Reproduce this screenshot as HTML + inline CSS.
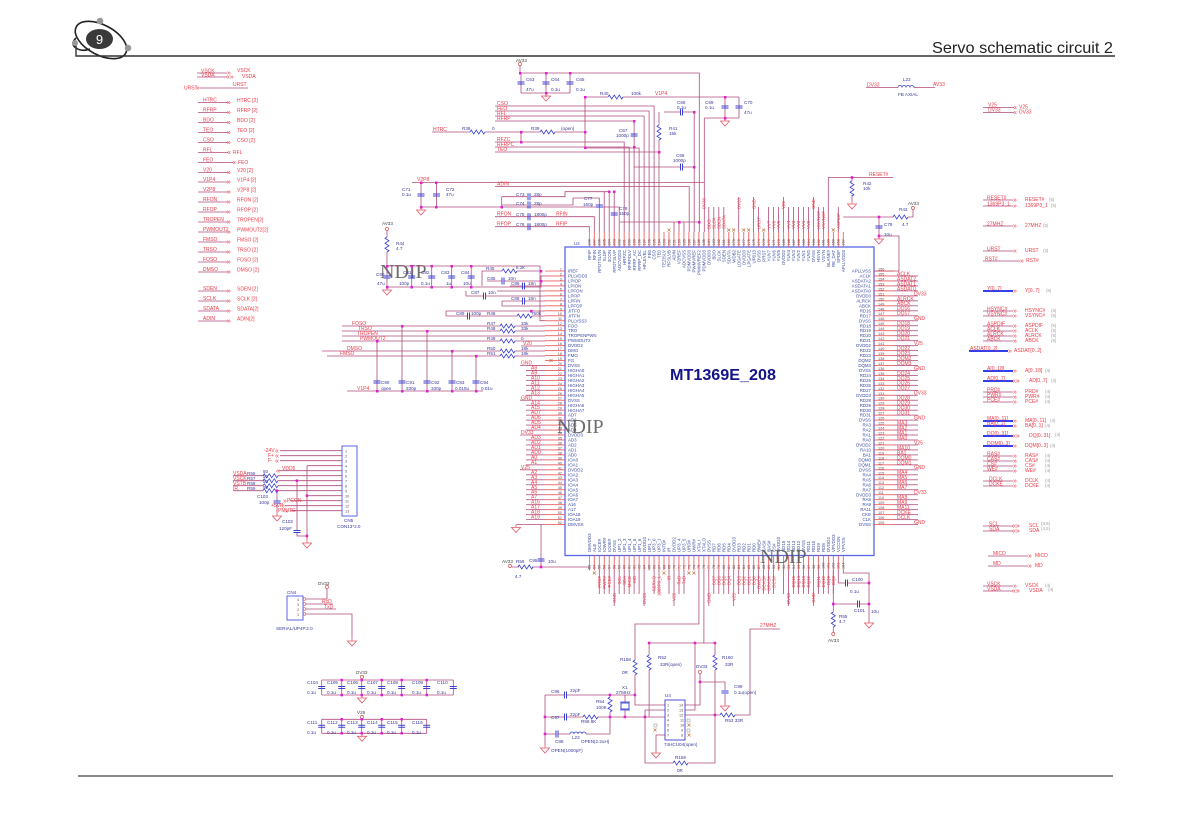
<!DOCTYPE html>
<html><head><meta charset="utf-8">
<style>
html,body{margin:0;padding:0;background:#fff;}
body{width:1182px;height:832px;overflow:hidden;position:relative;}
svg{position:absolute;left:0;top:0;}
text{font-family:"Liberation Sans",Arial,sans-serif;}
.r{fill:#ee3a48;font-size:5px;}
.rs{fill:#ee3a48;font-size:4.4px;}
.b{fill:#3c4ca0;font-size:4.4px;}
.n{fill:#6a4a5a;font-size:3.8px;}
.c{fill:#3a3a9a;font-size:4.6px;}
.g{fill:#9a9a9a;font-size:4.4px;}
.a{fill:#ee3a48;font-size:7px;}
.w{stroke:#b04c7c;stroke-width:0.8;fill:none;}
.p{stroke:#e84c4c;stroke-width:0.8;fill:none;}
.k{stroke:#3a40d0;stroke-width:0.9;fill:none;}
.bw{stroke:#1a26e6;stroke-width:1.8;fill:none;}
.nd{font-family:"Liberation Serif",serif;font-size:20px;fill:#555;opacity:0.85;}
</style></head><body>
<svg width="1182" height="832" viewBox="0 0 1182 832" xmlns="http://www.w3.org/2000/svg">
<defs>
<pattern id="ph" x="0" y="270.6" width="4" height="4.97" patternUnits="userSpaceOnUse"><rect width="4" height="0.8" fill="#e84c4c"/></pattern>
<pattern id="pm" x="0" y="270.6" width="4" height="4.97" patternUnits="userSpaceOnUse"><rect width="4" height="0.8" fill="#b04c7c"/></pattern>
<pattern id="pv" x="588.9" y="0" width="4.98" height="4" patternUnits="userSpaceOnUse"><rect width="0.8" height="4" fill="#e84c4c"/></pattern>
<path id="rh" d="M0,0l1.25,-2l2.5,4l2.5,-4l2.5,4l2.5,-4l2.5,4l1.25,-2" fill="none" stroke="#3a40d0" stroke-width="0.8"/>
<path id="rv" d="M0,0l-2,1.25l4,2.5l-4,2.5l4,2.5l-4,2.5l4,2.5l-2,1.25" fill="none" stroke="#3a40d0" stroke-width="0.8"/>
<path id="cv" d="M-3.5,-1h7M-3.5,1h7" stroke="#3a40d0" stroke-width="1"/>
<path id="ch" d="M-1,-3.5v7M1,-3.5v7" stroke="#3a40d0" stroke-width="1"/>
<path id="gd" d="M0,0v3M-4.5,3h9l-4.5,5z" fill="none" stroke="#e05a6a" stroke-width="0.8"/>
<rect id="jd" x="-1.3" y="-1.3" width="2.6" height="2.6" fill="#e020d0"/>
<path id="xx" d="M-1.5,-1.5l3,3M1.5,-1.5l-3,3" stroke="#c07840" stroke-width="0.7"/>
<path id="ind" d="M0,0a2,2 0 0 1 4,0a2,2 0 0 1 4,0a2,2 0 0 1 4,0a2,2 0 0 1 4,0" fill="none" stroke="#3a40d0" stroke-width="0.8"/>
<circle id="pw" r="1.6" fill="#fff" stroke="#e05050" stroke-width="0.7"/>
</defs>

<!-- HEADER -->
<g fill="none" stroke="#222" stroke-width="1.6">
<ellipse cx="101" cy="40" rx="28" ry="15" transform="rotate(28 101 40)"/>
<path d="M76,38 q-6,6 0,10 q6,4 14,1"/>
<path d="M76,43V56H1115" stroke="#333" stroke-width="1.4"/>
</g>
<ellipse cx="99.5" cy="39" rx="13.5" ry="10" fill="#3a3a3a"/>
<text x="99.5" y="44" text-anchor="middle" font-size="13" fill="#fff">9</text>
<circle cx="100" cy="21" r="3.3" fill="#999"/>
<circle cx="75" cy="43" r="3" fill="#999"/>
<circle cx="128" cy="48" r="3.3" fill="#999"/>
<text x="932" y="53" font-size="16" fill="#222" textLength="181" lengthAdjust="spacingAndGlyphs">Servo schematic circuit 2</text>
<path d="M78,776H1113" stroke="#444" stroke-width="1.2"/>

<!-- LEFT LABEL LIST -->
<path class="w" d="M197,73h30M197,77h30M200,88h48M198,102.5h30M198,112.5h30M198,122.5h30M198,132.5h30M198,142.5h30M198,152.5h30M198,162.5h35M198,172.5h30M198,182h30M198,192h30M198,202h30M198,212h30M198,222h30M198,232h30M198,242h30M198,252h30M198,262h30M198,272h30M198,291h30M198,301h30M198,311h30M198,321h30"/>
<text class="r"><tspan x="201" y="72.5">VSCK</tspan><tspan x="201" y="76.5">VSDA</tspan><tspan x="184" y="89.5">URST</tspan><tspan x="233" y="86">URST</tspan>
<tspan x="203" y="101.5">HTRC</tspan><tspan x="203" y="111.5">RFRP</tspan><tspan x="203" y="121.5">BDO</tspan><tspan x="203" y="131.5">TEO</tspan><tspan x="203" y="141.5">CSO</tspan><tspan x="203" y="151.5">RFL</tspan><tspan x="203" y="161.5">FEO</tspan><tspan x="203" y="171.5">V20</tspan><tspan x="203" y="181">V1P4</tspan><tspan x="203" y="191">V2P8</tspan><tspan x="203" y="201">RFON</tspan><tspan x="203" y="211">RFOP</tspan><tspan x="203" y="221">TROPEN</tspan><tspan x="203" y="231">PWMOUT2</tspan><tspan x="203" y="241">FMSO</tspan><tspan x="203" y="251">TRSO</tspan><tspan x="203" y="261">FOSO</tspan><tspan x="203" y="271">DMSO</tspan><tspan x="203" y="290">SDEN</tspan><tspan x="203" y="300">SCLK</tspan><tspan x="203" y="310">SDATA</tspan><tspan x="203" y="320">ADIN</tspan></text>
<text class="a"><tspan x="227" y="75">»</tspan><tspan x="226" y="79">«»</tspan><tspan x="196" y="90">»</tspan><tspan x="227" y="104.5">»</tspan><tspan x="227" y="114.5">»</tspan><tspan x="227" y="124.5">»</tspan><tspan x="227" y="134.5">»</tspan><tspan x="227" y="144.5">»</tspan><tspan x="227" y="154.5">«</tspan><tspan x="232" y="164.5">«</tspan><tspan x="227" y="174.5">»</tspan><tspan x="227" y="184">»</tspan><tspan x="227" y="194">»</tspan><tspan x="227" y="204">»</tspan><tspan x="227" y="214">»</tspan><tspan x="227" y="224">»</tspan><tspan x="227" y="234">»</tspan><tspan x="227" y="244">»</tspan><tspan x="227" y="254">»</tspan><tspan x="227" y="264">»</tspan><tspan x="227" y="274">»</tspan><tspan x="227" y="293">»</tspan><tspan x="227" y="303">»</tspan><tspan x="227" y="313">»</tspan><tspan x="227" y="323">»</tspan></text>
<text class="r"><tspan x="237" y="72">VSCK</tspan><tspan x="242" y="78">VSDA</tspan><tspan x="237" y="102">HTRC [2]</tspan><tspan x="237" y="112">RFRP [2]</tspan><tspan x="237" y="122">BDO  [2]</tspan><tspan x="237" y="132">TEO  [2]</tspan><tspan x="237" y="142">CSO  [2]</tspan><tspan x="233" y="154">RFL</tspan><tspan x="238" y="164">FEO</tspan><tspan x="237" y="172">V20  [2]</tspan><tspan x="237" y="181.5">V1P4 [2]</tspan><tspan x="237" y="191.5">V2P8 [2]</tspan><tspan x="237" y="201.5">RFON [2]</tspan><tspan x="237" y="211.5">RFOP [2]</tspan><tspan x="237" y="221.5">TROPEN[2]</tspan><tspan x="237" y="231.5">PWMOUT2[2]</tspan><tspan x="237" y="241.5">FMSO [2]</tspan><tspan x="237" y="251.5">TRSO [2]</tspan><tspan x="237" y="261.5">FOSO [2]</tspan><tspan x="237" y="271.5">DMSO [2]</tspan><tspan x="237" y="290.5">SDEN [2]</tspan><tspan x="237" y="300.5">SCLK [2]</tspan><tspan x="237" y="310.5">SDATA[2]</tspan><tspan x="237" y="320.5">ADIN[2]</tspan></text>

<!-- TOP-LEFT WIRING -->
<path class="w" d="M520,66V73H699.3V232M521,73V93M546,73V93M570,73V93M521,93H570M546,93V97
M585,97H608M623,97H739M725,97V118M739,97V118M704.3,118H739M704.3,118V232M412,182.5H704.3
M585,97V148M495,106H654.1V232M495,111H649.1V232M495,116H644.1V232M495,121H634.1V232
M432,132H470M485,132H540M555,132H585M521,132V142M495,142H624.2V232M495,147H629.2V232M585,148H639.1V232
M495,152H659V232M659,112V125M659,140V152M664,112H680M683,112H694.2V232M634.1,167H680M683,167H694.2
M421,182.5V207M436.5,182.5V207M421,207H619.2V232M495,186.5H689.2V232
M501.7,196.7V207M501.7,196.7H527M531,196.7H565V191.7H609.2V232M501.7,205H527M531,205H573V198H599.3V232
M495,216.7H594.3V232M495,226.7H589.3V232M604.2,191.7V232M614.2,191.7V232M620,222H699M674,222V232M679,222V232M684,222V232"/>
<use href="#pw" x="520" y="64"/>
<use href="#cv" x="521" y="83"/><use href="#cv" x="546" y="83"/><use href="#cv" x="570" y="83"/>
<use href="#gd" x="546" y="93"/>
<use href="#rh" x="608" y="97"/>
<use href="#cv" x="725" y="107"/><use href="#cv" x="739" y="107"/><use href="#gd" x="725" y="118"/>
<use href="#rh" x="470" y="132"/><use href="#rh" x="540" y="132"/>
<use href="#rv" x="659" y="125"/>
<use href="#ch" x="681.5" y="112"/><use href="#ch" x="681.5" y="167"/>
<use href="#cv" x="634.1" y="135"/>
<use href="#cv" x="421" y="195"/><use href="#cv" x="436.5" y="195"/><use href="#gd" x="421" y="207"/>
<use href="#ch" x="529" y="196.7"/><use href="#ch" x="529" y="205"/><use href="#ch" x="529" y="216.7"/><use href="#ch" x="529" y="226.7"/>
<use href="#cv" x="599.3" y="206"/><use href="#cv" x="614.2" y="214"/>
<g fill="#e020d0"><rect x="519" y="72" width="2.5" height="2.5"/><rect x="545" y="72" width="2.5" height="2.5"/><rect x="569" y="72" width="2.5" height="2.5"/><rect x="545" y="92" width="2.5" height="2.5"/><rect x="584" y="96" width="2.5" height="2.5"/><rect x="724" y="96" width="2.5" height="2.5"/><rect x="724" y="117" width="2.5" height="2.5"/><rect x="520" y="131" width="2.5" height="2.5"/><rect x="584" y="131" width="2.5" height="2.5"/><rect x="584" y="146.5" width="2.5" height="2.5"/><rect x="520" y="141" width="2.5" height="2.5"/><rect x="633" y="120" width="2.5" height="2.5"/><rect x="633" y="146" width="2.5" height="2.5"/><rect x="658" y="151" width="2.5" height="2.5"/><rect x="693" y="111" width="2.5" height="2.5"/><rect x="693" y="166" width="2.5" height="2.5"/><rect x="420" y="181.5" width="2.5" height="2.5"/><rect x="435" y="181.5" width="2.5" height="2.5"/><rect x="420" y="206" width="2.5" height="2.5"/><rect x="435" y="206" width="2.5" height="2.5"/><rect x="500.5" y="206" width="2.5" height="2.5"/><rect x="678" y="221" width="2.5" height="2.5"/><rect x="698" y="221" width="2.5" height="2.5"/><rect x="608" y="190.5" width="2.5" height="2.5"/><rect x="613" y="190.5" width="2.5" height="2.5"/></g>
<text class="c"><tspan x="516" y="62" fill="#444">AV33</tspan><tspan x="526" y="81">C63</tspan><tspan x="526" y="91">47u</tspan><tspan x="551" y="81">C64</tspan><tspan x="551" y="91">0.1u</tspan><tspan x="576" y="81">C65</tspan><tspan x="576" y="91">0.1u</tspan><tspan x="600" y="95">R40</tspan><tspan x="631" y="95">100k</tspan><tspan x="705" y="104">C69</tspan><tspan x="705" y="109">0.1u</tspan><tspan x="744" y="104">C70</tspan><tspan x="744" y="114">47u</tspan><tspan x="677" y="104">C66</tspan><tspan x="677" y="109">0.1u</tspan><tspan x="462" y="130">R38</tspan><tspan x="492" y="130">0</tspan><tspan x="531" y="130">R39</tspan><tspan x="561" y="130">(open)</tspan><tspan x="669" y="130">R41</tspan><tspan x="669" y="135">15k</tspan><tspan x="619" y="132">C67</tspan><tspan x="616" y="137">1000p</tspan><tspan x="676" y="157">C68</tspan><tspan x="673" y="162">1000p</tspan><tspan x="402" y="191">C71</tspan><tspan x="402" y="196">0.1u</tspan><tspan x="446" y="191">C72</tspan><tspan x="446" y="196">47u</tspan><tspan x="516" y="196">C73</tspan><tspan x="534" y="196">28p</tspan><tspan x="516" y="205">C74</tspan><tspan x="534" y="205">28p</tspan><tspan x="516" y="216">C75</tspan><tspan x="534" y="216">1800p</tspan><tspan x="516" y="226">C76</tspan><tspan x="534" y="226">1800p</tspan><tspan x="584" y="200">C77</tspan><tspan x="583" y="206">150p</tspan><tspan x="619" y="210">C78</tspan><tspan x="619" y="215">150p</tspan></text>
<text class="r"><tspan x="655" y="95">V1P4</tspan><tspan x="497" y="105">CSO</tspan><tspan x="497" y="110">FEO</tspan><tspan x="497" y="115">RFL</tspan><tspan x="497" y="120">RFRP</tspan><tspan x="433" y="131">HTRC</tspan><tspan x="497" y="141">RFZC</tspan><tspan x="497" y="146">RFRPC</tspan><tspan x="497" y="151">TEO</tspan><tspan x="417" y="181">V2P8</tspan><tspan x="497" y="185.5">ADIN</tspan><tspan x="497" y="215.7">RFON</tspan><tspan x="556" y="215.7">RFIN</tspan><tspan x="497" y="225.7">RFOP</tspan><tspan x="556" y="225.7">RFIP</tspan></text>

<!-- TOP RIGHT -->
<path class="w" d="M866,87.5H898M914,87.5H935M983,107.5H1014M983,112.5H1014M828.3,177.5V232M828.3,177.5H893M852,177.5V181M852,195V201M843.3,217H893M908,217H913V210M879,217V236M879,236H899V271H874"/>
<use href="#ind" x="898" y="87.5"/>
<use href="#rv" x="852" y="181"/><use href="#gd" x="852" y="201"/>
<use href="#rh" x="893" y="217"/>
<use href="#pw" x="913" y="208"/>
<use href="#cv" x="879" y="227"/><use href="#gd" x="879" y="236"/>
<use href="#jd" x="852" y="177.5"/><use href="#jd" x="879" y="217"/><use href="#jd" x="879" y="236"/>
<text class="c"><tspan x="903" y="81">L22</tspan><tspan x="898" y="96">FB AXIAL</tspan><tspan x="863" y="185">R42</tspan><tspan x="863" y="190">10k</tspan><tspan x="899" y="211">R43</tspan><tspan x="902" y="226">4.7</tspan><tspan x="884" y="226">C79</tspan><tspan x="884" y="236">10u</tspan><tspan x="908" y="205" fill="#444">AV33</tspan></text>
<text class="r"><tspan x="867" y="86.5">DV33</tspan><tspan x="933" y="86">AV33</tspan><tspan x="988" y="106.5">V25</tspan><tspan x="988" y="111.5">DV33</tspan><tspan x="1019" y="108.5">V25</tspan><tspan x="1019" y="113.5">DV33</tspan><tspan x="869" y="176">RESET#</tspan></text>
<text class="a"><tspan x="1013" y="109.5">«</tspan><tspan x="1013" y="114.5">«</tspan></text>

<!-- RIGHT LABEL GROUPS -->
<path class="w" d="M983,200h30M983,206h30M983,226h30M983,251h30M983,261h37M983,311h30M983,316h30M983,326h30M983,331h30M983,336h30M983,341h30M983,392h30M983,397h30M983,402h30M983,456h30M983,461h30M983,466h30M983,471h30M983,481h30M983,486h30M983,526h30M983,531h30M988,556h40M988,566h40M983,586h30M983,591h30"/>
<path class="bw" d="M983,291h30M969,351h39M983,371h30M983,381h30M983,421h30M983,426h30M983,436h30M983,446h30"/>
<text class="r"><tspan x="987" y="199.5">RESET#</tspan><tspan x="987" y="205.5">1369P3_1</tspan><tspan x="987" y="225.5">27MHZ</tspan><tspan x="987" y="250.5">URST</tspan><tspan x="985" y="260.5">RST#</tspan><tspan x="987" y="290">Y[0..7]</tspan><tspan x="987" y="310.5">HSYNC#</tspan><tspan x="987" y="315.5">VSYNC#</tspan><tspan x="987" y="325.5">ASPDIF</tspan><tspan x="987" y="330.5">ACLK</tspan><tspan x="987" y="335.5">ALRCK</tspan><tspan x="987" y="340.5">ABCK</tspan><tspan x="970" y="350">ASDAT[0..2]</tspan><tspan x="987" y="370">A[0..18]</tspan><tspan x="987" y="380">AD[0..7]</tspan><tspan x="987" y="391.5">PRD#</tspan><tspan x="987" y="396.5">PWR#</tspan><tspan x="987" y="401.5">PCE#</tspan><tspan x="987" y="420">MA[0..11]</tspan><tspan x="987" y="425">BA[0..1]</tspan><tspan x="987" y="435">DQ[0..31]</tspan><tspan x="987" y="445">DQM[0..3]</tspan><tspan x="987" y="455.5">RAS#</tspan><tspan x="987" y="460.5">CAS#</tspan><tspan x="987" y="465.5">CS#</tspan><tspan x="987" y="470.5">WE#</tspan><tspan x="989" y="480.5">DCLK</tspan><tspan x="989" y="485.5">DCKE</tspan><tspan x="989" y="525.5">SCL</tspan><tspan x="989" y="530.5">SDA</tspan><tspan x="993" y="555">MICD</tspan><tspan x="993" y="565">MD</tspan><tspan x="987" y="585.5">VSCK</tspan><tspan x="987" y="590.5">VSDA</tspan></text>
<text class="a"><tspan x="1013" y="202">»</tspan><tspan x="1013" y="208">»</tspan><tspan x="1013" y="228">»</tspan><tspan x="1013" y="253">«</tspan><tspan x="1020" y="263">»</tspan><tspan x="1013" y="293">»</tspan><tspan x="1013" y="313">»</tspan><tspan x="1013" y="318">»</tspan><tspan x="1013" y="328">»</tspan><tspan x="1013" y="333">»</tspan><tspan x="1013" y="338">»</tspan><tspan x="1013" y="343">»</tspan><tspan x="1008" y="353">»</tspan><tspan x="1013" y="373">»</tspan><tspan x="1012" y="383">«»</tspan><tspan x="1013" y="394">»</tspan><tspan x="1013" y="399">»</tspan><tspan x="1013" y="404">»</tspan><tspan x="1013" y="423">»</tspan><tspan x="1013" y="428">»</tspan><tspan x="1012" y="438">«»</tspan><tspan x="1013" y="448">»</tspan><tspan x="1013" y="458">»</tspan><tspan x="1013" y="463">»</tspan><tspan x="1013" y="468">»</tspan><tspan x="1013" y="473">»</tspan><tspan x="1013" y="483">»</tspan><tspan x="1013" y="488">»</tspan><tspan x="1012" y="528">«»</tspan><tspan x="1012" y="533">«»</tspan><tspan x="1028" y="558">»</tspan><tspan x="1028" y="568">»</tspan><tspan x="1013" y="588">»</tspan><tspan x="1012" y="593">«»</tspan></text>
<text class="r"><tspan x="1025" y="201">RESET#</tspan><tspan x="1025" y="207">1369P3_1</tspan><tspan x="1025" y="227">27MHZ</tspan><tspan x="1025" y="252">URST</tspan><tspan x="1026" y="262">RST#</tspan><tspan x="1025" y="292">Y[0..7]</tspan><tspan x="1025" y="312">HSYNC#</tspan><tspan x="1025" y="317">VSYNC#</tspan><tspan x="1025" y="327">ASPDIF</tspan><tspan x="1025" y="332">ACLK</tspan><tspan x="1025" y="337">ALRCK</tspan><tspan x="1025" y="342">ABCK</tspan><tspan x="1014" y="352">ASDAT[0..2]</tspan><tspan x="1025" y="372">A[0..18]</tspan><tspan x="1029" y="382">AD[0..7]</tspan><tspan x="1025" y="393">PRD#</tspan><tspan x="1025" y="398">PWR#</tspan><tspan x="1025" y="403">PCE#</tspan><tspan x="1025" y="422">MA[0..11]</tspan><tspan x="1025" y="427">BA[0..1]</tspan><tspan x="1029" y="437">DQ[0..31]</tspan><tspan x="1025" y="447">DQM[0..3]</tspan><tspan x="1025" y="457">RAS#</tspan><tspan x="1025" y="462">CAS#</tspan><tspan x="1025" y="467">CS#</tspan><tspan x="1025" y="472">WE#</tspan><tspan x="1025" y="482">DCLK</tspan><tspan x="1025" y="487">DCKE</tspan><tspan x="1029" y="527">SCL</tspan><tspan x="1029" y="532">SDA</tspan><tspan x="1035" y="557">MICD</tspan><tspan x="1035" y="567">MD</tspan><tspan x="1025" y="587">VSCK</tspan><tspan x="1029" y="592">VSDA</tspan></text>
<text class="g"><tspan x="1049" y="201">(5)</tspan><tspan x="1051" y="207">(5)</tspan><tspan x="1043" y="227">(5)</tspan><tspan x="1043" y="252">(3)</tspan><tspan x="1046" y="292">(5)</tspan><tspan x="1051" y="312">(5)</tspan><tspan x="1051" y="317">(5)</tspan><tspan x="1051" y="327">(5)</tspan><tspan x="1051" y="332">(5)</tspan><tspan x="1051" y="337">(5)</tspan><tspan x="1051" y="342">(5)</tspan><tspan x="1045" y="372">(4)</tspan><tspan x="1051" y="382">(4)</tspan><tspan x="1045" y="393">(4)</tspan><tspan x="1045" y="398">(4)</tspan><tspan x="1045" y="403">(4)</tspan><tspan x="1050" y="422">(4)</tspan><tspan x="1045" y="427">(4)</tspan><tspan x="1055" y="436">(4)</tspan><tspan x="1050" y="447">(4)</tspan><tspan x="1045" y="457">(4)</tspan><tspan x="1045" y="462">(4)</tspan><tspan x="1045" y="467">(4)</tspan><tspan x="1045" y="472">(4)</tspan><tspan x="1045" y="482">(4)</tspan><tspan x="1045" y="487">(4)</tspan><tspan x="1041" y="525">(4,5)</tspan><tspan x="1041" y="530">(4,5)</tspan><tspan x="1045" y="587">(4)</tspan><tspan x="1048" y="591">(4)</tspan></text>

<!-- CHIP U3 -->
<rect x="565" y="247" width="309" height="308.5" fill="none" stroke="#5a66e6" stroke-width="1.3"/>
<text class="b" x="574" y="245">U3</text>
<text x="670" y="380" font-size="16" font-weight="bold" fill="#14148a" textLength="106" lengthAdjust="spacingAndGlyphs">MT1369E_208</text>
<rect x="545" y="270.6" width="20" height="255" fill="url(#ph)"/>
<rect x="874" y="270.6" width="20" height="255" fill="url(#ph)"/>
<rect x="894" y="275.5" width="24" height="250" fill="url(#pm)"/>
<rect x="526" y="365" width="19" height="155" fill="url(#pm)"/>
<rect x="588.9" y="232" width="255" height="15" fill="url(#pv)"/>
<rect x="588.9" y="555.5" width="255" height="15" fill="url(#pv)"/>

<!-- left numbers -->
<text class="n" text-anchor="end"><tspan x="562" y="270.5">1</tspan><tspan x="562" dy="4.97">2</tspan><tspan x="562" dy="4.97">3</tspan><tspan x="562" dy="4.97">4</tspan><tspan x="562" dy="4.97">5</tspan><tspan x="562" dy="4.97">6</tspan><tspan x="562" dy="4.97">7</tspan><tspan x="562" dy="4.97">8</tspan><tspan x="562" dy="4.97">9</tspan><tspan x="562" dy="4.97">10</tspan><tspan x="562" dy="4.97">11</tspan><tspan x="562" dy="4.97">12</tspan><tspan x="562" dy="4.97">13</tspan><tspan x="562" dy="4.97">14</tspan><tspan x="562" dy="4.97">15</tspan><tspan x="562" dy="4.97">16</tspan><tspan x="562" dy="4.97">17</tspan><tspan x="562" dy="4.97">18</tspan><tspan x="562" dy="4.97">19</tspan><tspan x="562" dy="4.97">20</tspan><tspan x="562" dy="4.97">21</tspan><tspan x="562" dy="4.97">22</tspan><tspan x="562" dy="4.97">23</tspan><tspan x="562" dy="4.97">24</tspan><tspan x="562" dy="4.97">25</tspan><tspan x="562" dy="4.97">26</tspan><tspan x="562" dy="4.97">27</tspan><tspan x="562" dy="4.97">28</tspan><tspan x="562" dy="4.97">29</tspan><tspan x="562" dy="4.97">30</tspan><tspan x="562" dy="4.97">31</tspan><tspan x="562" dy="4.97">32</tspan><tspan x="562" dy="4.97">33</tspan><tspan x="562" dy="4.97">34</tspan><tspan x="562" dy="4.97">35</tspan><tspan x="562" dy="4.97">36</tspan><tspan x="562" dy="4.97">37</tspan><tspan x="562" dy="4.97">38</tspan><tspan x="562" dy="4.97">39</tspan><tspan x="562" dy="4.97">40</tspan><tspan x="562" dy="4.97">41</tspan><tspan x="562" dy="4.97">42</tspan><tspan x="562" dy="4.97">43</tspan><tspan x="562" dy="4.97">44</tspan><tspan x="562" dy="4.97">45</tspan><tspan x="562" dy="4.97">46</tspan><tspan x="562" dy="4.97">47</tspan><tspan x="562" dy="4.97">48</tspan><tspan x="562" dy="4.97">49</tspan><tspan x="562" dy="4.97">50</tspan><tspan x="562" dy="4.97">51</tspan><tspan x="562" dy="4.97">52</tspan></text>
<!-- left internal -->
<text class="b"><tspan x="568" y="272.6">IREF</tspan><tspan x="568" dy="4.97">PLLVDD3</tspan><tspan x="568" dy="4.97">LPIOP</tspan><tspan x="568" dy="4.97">LPION</tspan><tspan x="568" dy="4.97">LPFON</tspan><tspan x="568" dy="4.97">LPFIP</tspan><tspan x="568" dy="4.97">LPFIN</tspan><tspan x="568" dy="4.97">LPFOP</tspan><tspan x="568" dy="4.97">JITFO</tspan><tspan x="568" dy="4.97">JITFN</tspan><tspan x="568" dy="4.97">PLLVSS3</tspan><tspan x="568" dy="4.97">FOO</tspan><tspan x="568" dy="4.97">TRO</tspan><tspan x="568" dy="4.97">TROPENPWN</tspan><tspan x="568" dy="4.97">PWMOUT2</tspan><tspan x="568" dy="4.97">DVDD2</tspan><tspan x="568" dy="4.97">DMO</tspan><tspan x="568" dy="4.97">FMO</tspan><tspan x="568" dy="4.97">FG</tspan><tspan x="568" dy="4.97">DVSS</tspan><tspan x="568" dy="4.97">HIGHA0</tspan><tspan x="568" dy="4.97">HIGHA1</tspan><tspan x="568" dy="4.97">HIGHA2</tspan><tspan x="568" dy="4.97">HIGHA3</tspan><tspan x="568" dy="4.97">HIGHA4</tspan><tspan x="568" dy="4.97">HIGHA5</tspan><tspan x="568" dy="4.97">DVSS</tspan><tspan x="568" dy="4.97">HIGHA6</tspan><tspan x="568" dy="4.97">HIGHA7</tspan><tspan x="568" dy="4.97">AD7</tspan><tspan x="568" dy="4.97">AD6</tspan><tspan x="568" dy="4.97">AD5</tspan><tspan x="568" dy="4.97">AD4</tspan><tspan x="568" dy="4.97">DVDD3</tspan><tspan x="568" dy="4.97">AD3</tspan><tspan x="568" dy="4.97">AD2</tspan><tspan x="568" dy="4.97">AD1</tspan><tspan x="568" dy="4.97">AD0</tspan><tspan x="568" dy="4.97">IOA0</tspan><tspan x="568" dy="4.97">IOA1</tspan><tspan x="568" dy="4.97">DVDD2</tspan><tspan x="568" dy="4.97">IOA2</tspan><tspan x="568" dy="4.97">IOA3</tspan><tspan x="568" dy="4.97">IOA4</tspan><tspan x="568" dy="4.97">IOA5</tspan><tspan x="568" dy="4.97">IOA6</tspan><tspan x="568" dy="4.97">IOA7</tspan><tspan x="568" dy="4.97">A16</tspan><tspan x="568" dy="4.97">A17</tspan><tspan x="568" dy="4.97">IOA18</tspan><tspan x="568" dy="4.97">IOA19</tspan><tspan x="568" dy="4.97">DMVSS</tspan></text>
<!-- left external -->
<text class="r"><tspan x="521" y="364.5">GND</tspan><tspan x="531" dy="4.97">A8</tspan><tspan x="531" dy="4.97">A9</tspan><tspan x="531" dy="4.97">A10</tspan><tspan x="531" dy="4.97">A11</tspan><tspan x="531" dy="4.97">A12</tspan><tspan x="531" dy="4.97">A13</tspan><tspan x="521" dy="4.97">GND</tspan><tspan x="531" dy="4.97">A14</tspan><tspan x="531" dy="4.97">A15</tspan><tspan x="531" dy="4.97">AD7</tspan><tspan x="531" dy="4.97">AD6</tspan><tspan x="531" dy="4.97">AD5</tspan><tspan x="531" dy="4.97">AD4</tspan><tspan x="521" dy="4.97">DV33</tspan><tspan x="531" dy="4.97">AD3</tspan><tspan x="531" dy="4.97">AD2</tspan><tspan x="531" dy="4.97">AD1</tspan><tspan x="531" dy="4.97">AD0</tspan><tspan x="531" dy="4.97">A0</tspan><tspan x="531" dy="4.97">A1</tspan><tspan x="521" dy="4.97">V25</tspan><tspan x="531" dy="4.97">A2</tspan><tspan x="531" dy="4.97">A3</tspan><tspan x="531" dy="4.97">A4</tspan><tspan x="531" dy="4.97">A5</tspan><tspan x="531" dy="4.97">A6</tspan><tspan x="531" dy="4.97">A7</tspan><tspan x="531" dy="4.97">A16</tspan><tspan x="531" dy="4.97">A17</tspan><tspan x="531" dy="4.97">A18</tspan><tspan x="531" dy="4.97">A19</tspan></text>
<path class="w" d="M520,365.4H526M520,400.2H526M520,435H526M520,469.8H526M516,524.5H545M541,524.5V567"/>
<use href="#gd" x="516" y="524.5"/>
<use href="#xx" x="551" y="360.5"/>
<!-- right numbers -->
<text class="n"><tspan x="878" y="270.5">156</tspan><tspan x="878" dy="4.97">155</tspan><tspan x="878" dy="4.97">154</tspan><tspan x="878" dy="4.97">153</tspan><tspan x="878" dy="4.97">152</tspan><tspan x="878" dy="4.97">151</tspan><tspan x="878" dy="4.97">150</tspan><tspan x="878" dy="4.97">149</tspan><tspan x="878" dy="4.97">148</tspan><tspan x="878" dy="4.97">147</tspan><tspan x="878" dy="4.97">146</tspan><tspan x="878" dy="4.97">145</tspan><tspan x="878" dy="4.97">144</tspan><tspan x="878" dy="4.97">143</tspan><tspan x="878" dy="4.97">142</tspan><tspan x="878" dy="4.97">141</tspan><tspan x="878" dy="4.97">140</tspan><tspan x="878" dy="4.97">139</tspan><tspan x="878" dy="4.97">138</tspan><tspan x="878" dy="4.97">137</tspan><tspan x="878" dy="4.97">136</tspan><tspan x="878" dy="4.97">135</tspan><tspan x="878" dy="4.97">134</tspan><tspan x="878" dy="4.97">133</tspan><tspan x="878" dy="4.97">132</tspan><tspan x="878" dy="4.97">131</tspan><tspan x="878" dy="4.97">130</tspan><tspan x="878" dy="4.97">129</tspan><tspan x="878" dy="4.97">128</tspan><tspan x="878" dy="4.97">127</tspan><tspan x="878" dy="4.97">126</tspan><tspan x="878" dy="4.97">125</tspan><tspan x="878" dy="4.97">124</tspan><tspan x="878" dy="4.97">123</tspan><tspan x="878" dy="4.97">122</tspan><tspan x="878" dy="4.97">121</tspan><tspan x="878" dy="4.97">120</tspan><tspan x="878" dy="4.97">119</tspan><tspan x="878" dy="4.97">118</tspan><tspan x="878" dy="4.97">117</tspan><tspan x="878" dy="4.97">116</tspan><tspan x="878" dy="4.97">115</tspan><tspan x="878" dy="4.97">114</tspan><tspan x="878" dy="4.97">113</tspan><tspan x="878" dy="4.97">112</tspan><tspan x="878" dy="4.97">111</tspan><tspan x="878" dy="4.97">110</tspan><tspan x="878" dy="4.97">109</tspan><tspan x="878" dy="4.97">108</tspan><tspan x="878" dy="4.97">107</tspan><tspan x="878" dy="4.97">106</tspan><tspan x="878" dy="4.97">105</tspan></text>
<!-- right internal -->
<text class="b" text-anchor="end"><tspan x="871" y="272.6">APLLVSS</tspan><tspan x="871" dy="4.97">ACLK</tspan><tspan x="871" dy="4.97">ASDATA2</tspan><tspan x="871" dy="4.97">ASDATA1</tspan><tspan x="871" dy="4.97">ASDATA0</tspan><tspan x="871" dy="4.97">DVDD3</tspan><tspan x="871" dy="4.97">ALRCK</tspan><tspan x="871" dy="4.97">ABCK</tspan><tspan x="871" dy="4.97">RD16</tspan><tspan x="871" dy="4.97">RD17</tspan><tspan x="871" dy="4.97">DVSS</tspan><tspan x="871" dy="4.97">RD18</tspan><tspan x="871" dy="4.97">RD19</tspan><tspan x="871" dy="4.97">RD20</tspan><tspan x="871" dy="4.97">RD21</tspan><tspan x="871" dy="4.97">DVDD2</tspan><tspan x="871" dy="4.97">RD22</tspan><tspan x="871" dy="4.97">RD23</tspan><tspan x="871" dy="4.97">DQM2</tspan><tspan x="871" dy="4.97">DQM3</tspan><tspan x="871" dy="4.97">DVSS</tspan><tspan x="871" dy="4.97">RD24</tspan><tspan x="871" dy="4.97">RD25</tspan><tspan x="871" dy="4.97">RD26</tspan><tspan x="871" dy="4.97">RD27</tspan><tspan x="871" dy="4.97">DVDD3</tspan><tspan x="871" dy="4.97">RD28</tspan><tspan x="871" dy="4.97">RD29</tspan><tspan x="871" dy="4.97">RD30</tspan><tspan x="871" dy="4.97">RD31</tspan><tspan x="871" dy="4.97">DVSS</tspan><tspan x="871" dy="4.97">RA3</tspan><tspan x="871" dy="4.97">RA2</tspan><tspan x="871" dy="4.97">RA1</tspan><tspan x="871" dy="4.97">RA0</tspan><tspan x="871" dy="4.97">DVDD2</tspan><tspan x="871" dy="4.97">RA10</tspan><tspan x="871" dy="4.97">BA1</tspan><tspan x="871" dy="4.97">DQM0</tspan><tspan x="871" dy="4.97">DQM1</tspan><tspan x="871" dy="4.97">DVSS</tspan><tspan x="871" dy="4.97">RA4</tspan><tspan x="871" dy="4.97">RA5</tspan><tspan x="871" dy="4.97">RA6</tspan><tspan x="871" dy="4.97">RA7</tspan><tspan x="871" dy="4.97">DVDD3</tspan><tspan x="871" dy="4.97">RA8</tspan><tspan x="871" dy="4.97">RA9</tspan><tspan x="871" dy="4.97">RA11</tspan><tspan x="871" dy="4.97">CKE</tspan><tspan x="871" dy="4.97">CLK</tspan><tspan x="871" dy="4.97">DVSS</tspan></text>
<!-- right external -->
<text class="r"><tspan x="897" y="275.4">ACLK</tspan><tspan x="897" dy="4.97">ASDAT2</tspan><tspan x="897" dy="4.97">ASDAT1</tspan><tspan x="897" dy="4.97">ASDAT0</tspan><tspan x="914" dy="4.97">DV33</tspan><tspan x="897" dy="4.97">ALRCK</tspan><tspan x="897" dy="4.97">ABCK</tspan><tspan x="897" dy="4.97">DQ16</tspan><tspan x="897" dy="4.97">DQ17</tspan><tspan x="914" dy="4.97">GND</tspan><tspan x="897" dy="4.97">DQ18</tspan><tspan x="897" dy="4.97">DQ19</tspan><tspan x="897" dy="4.97">DQ20</tspan><tspan x="897" dy="4.97">DQ21</tspan><tspan x="914" dy="4.97">V25</tspan><tspan x="897" dy="4.97">DQ22</tspan><tspan x="897" dy="4.97">DQ23</tspan><tspan x="897" dy="4.97">DQM2</tspan><tspan x="897" dy="4.97">DQM3</tspan><tspan x="914" dy="4.97">GND</tspan><tspan x="897" dy="4.97">DQ24</tspan><tspan x="897" dy="4.97">DQ25</tspan><tspan x="897" dy="4.97">DQ26</tspan><tspan x="897" dy="4.97">DQ27</tspan><tspan x="914" dy="4.97">DV33</tspan><tspan x="897" dy="4.97">DQ28</tspan><tspan x="897" dy="4.97">DQ29</tspan><tspan x="897" dy="4.97">DQ30</tspan><tspan x="897" dy="4.97">DQ31</tspan><tspan x="914" dy="4.97">GND</tspan><tspan x="897" dy="4.97">MA3</tspan><tspan x="897" dy="4.97">MA2</tspan><tspan x="897" dy="4.97">MA1</tspan><tspan x="897" dy="4.97">MA0</tspan><tspan x="914" dy="4.97">V25</tspan><tspan x="897" dy="4.97">MA10</tspan><tspan x="897" dy="4.97">BA1</tspan><tspan x="897" dy="4.97">DQM0</tspan><tspan x="897" dy="4.97">DQM1</tspan><tspan x="914" dy="4.97">GND</tspan><tspan x="897" dy="4.97">MA4</tspan><tspan x="897" dy="4.97">MA5</tspan><tspan x="897" dy="4.97">MA6</tspan><tspan x="897" dy="4.97">MA7</tspan><tspan x="914" dy="4.97">DV33</tspan><tspan x="897" dy="4.97">MA8</tspan><tspan x="897" dy="4.97">MA9</tspan><tspan x="897" dy="4.97">MA11</tspan><tspan x="897" dy="4.97">DCKE</tspan><tspan x="897" dy="4.97">DCLK</tspan><tspan x="914" dy="4.97">GND</tspan></text>

<!-- top numbers -->
<g transform="translate(590.7,245.5) rotate(-90)"><text class="n"><tspan x="0" y="0">208</tspan><tspan x="0" dy="4.98">207</tspan><tspan x="0" dy="4.98">206</tspan><tspan x="0" dy="4.98">205</tspan><tspan x="0" dy="4.98">204</tspan><tspan x="0" dy="4.98">203</tspan><tspan x="0" dy="4.98">202</tspan><tspan x="0" dy="4.98">201</tspan><tspan x="0" dy="4.98">200</tspan><tspan x="0" dy="4.98">199</tspan><tspan x="0" dy="4.98">198</tspan><tspan x="0" dy="4.98">197</tspan><tspan x="0" dy="4.98">196</tspan><tspan x="0" dy="4.98">195</tspan><tspan x="0" dy="4.98">194</tspan><tspan x="0" dy="4.98">193</tspan><tspan x="0" dy="4.98">192</tspan><tspan x="0" dy="4.98">191</tspan><tspan x="0" dy="4.98">190</tspan><tspan x="0" dy="4.98">189</tspan><tspan x="0" dy="4.98">188</tspan><tspan x="0" dy="4.98">187</tspan><tspan x="0" dy="4.98">186</tspan><tspan x="0" dy="4.98">185</tspan><tspan x="0" dy="4.98">184</tspan><tspan x="0" dy="4.98">183</tspan><tspan x="0" dy="4.98">182</tspan><tspan x="0" dy="4.98">181</tspan><tspan x="0" dy="4.98">180</tspan><tspan x="0" dy="4.98">179</tspan><tspan x="0" dy="4.98">178</tspan><tspan x="0" dy="4.98">177</tspan><tspan x="0" dy="4.98">176</tspan><tspan x="0" dy="4.98">175</tspan><tspan x="0" dy="4.98">174</tspan><tspan x="0" dy="4.98">173</tspan><tspan x="0" dy="4.98">172</tspan><tspan x="0" dy="4.98">171</tspan><tspan x="0" dy="4.98">170</tspan><tspan x="0" dy="4.98">169</tspan><tspan x="0" dy="4.98">168</tspan><tspan x="0" dy="4.98">167</tspan><tspan x="0" dy="4.98">166</tspan><tspan x="0" dy="4.98">165</tspan><tspan x="0" dy="4.98">164</tspan><tspan x="0" dy="4.98">163</tspan><tspan x="0" dy="4.98">162</tspan><tspan x="0" dy="4.98">161</tspan><tspan x="0" dy="4.98">160</tspan><tspan x="0" dy="4.98">159</tspan><tspan x="0" dy="4.98">158</tspan><tspan x="0" dy="4.98">157</tspan></text></g>
<!-- top internal -->
<g transform="translate(591,250) rotate(-90)"><text class="b" text-anchor="end"><tspan x="0" y="0">RFIP</tspan><tspan x="0" dy="4.98">RFIN</tspan><tspan x="0" dy="4.98">RFDTSLVN</tspan><tspan x="0" dy="4.98">SLDP</tspan><tspan x="0" dy="4.98">3CON</tspan><tspan x="0" dy="4.98">RFDTSLVP</tspan><tspan x="0" dy="4.98">ADCVDD3</tspan><tspan x="0" dy="4.98">HRFZC</tspan><tspan x="0" dy="4.98">RFRPDLV</tspan><tspan x="0" dy="4.98">RFRP_AC</tspan><tspan x="0" dy="4.98">RFRP_DC</tspan><tspan x="0" dy="4.98">HFLEVEL</tspan><tspan x="0" dy="4.98">FE0</tspan><tspan x="0" dy="4.98">CSO</tspan><tspan x="0" dy="4.98">TE0</tspan><tspan x="0" dy="4.98">TEZISLV</tspan><tspan x="0" dy="4.98">RFSLVB</tspan><tspan x="0" dy="4.98">ADIN</tspan><tspan x="0" dy="4.98">V2REF</tspan><tspan x="0" dy="4.98">ADCVSS</tspan><tspan x="0" dy="4.98">PDMVDD3</tspan><tspan x="0" dy="4.98">PWMVREF</tspan><tspan x="0" dy="4.98">PWMVREF2</tspan><tspan x="0" dy="4.98">PDMVDD3</tspan><tspan x="0" dy="4.98">DVDD3</tspan><tspan x="0" dy="4.98">BDO</tspan><tspan x="0" dy="4.98">SLCK</tspan><tspan x="0" dy="4.98">SDEN</tspan><tspan x="0" dy="4.98">SDATA</tspan><tspan x="0" dy="4.98">WDB2</tspan><tspan x="0" dy="4.98">LDGATE</tspan><tspan x="0" dy="4.98">DVDD3</tspan><tspan x="0" dy="4.98">LPGATE</tspan><tspan x="0" dy="4.98">UP013</tspan><tspan x="0" dy="4.98">DVSS</tspan><tspan x="0" dy="4.98">PRST</tspan><tspan x="0" dy="4.98">YUV7</tspan><tspan x="0" dy="4.98">YUV6</tspan><tspan x="0" dy="4.98">YUV5</tspan><tspan x="0" dy="4.98">DVDD2</tspan><tspan x="0" dy="4.98">YUV4</tspan><tspan x="0" dy="4.98">YUV3</tspan><tspan x="0" dy="4.98">YUV2</tspan><tspan x="0" dy="4.98">YUV1</tspan><tspan x="0" dy="4.98">YUV0</tspan><tspan x="0" dy="4.98">DVSS</tspan><tspan x="0" dy="4.98">HSYN</tspan><tspan x="0" dy="4.98">VSYN</tspan><tspan x="0" dy="4.98">BLANK#</tspan><tspan x="0" dy="4.98">RE_DAT</tspan><tspan x="0" dy="4.98">SPDIF</tspan><tspan x="0" dy="4.98">APLLVDD3</tspan></text></g>
<!-- top external labels -->
<path class="w" d="M708.8,207V232M713.8,207V232M718.8,207V232M723.8,207V232M758.6,207V232M768.6,207V232M773.6,207V232M778.5,207V232M788.5,207V232M793.5,207V232M798.5,207V232M803.4,207V232M808.4,207V232M818.4,207V232M823.4,207V232M838.3,207V232"/>
<path class="w" d="M738.7,197V232M753.6,197V232M783.5,197V232M813.4,197V232" stroke="#d8a0b8"/>
<g transform="translate(591,229) rotate(-90)"><text class="rs"><tspan x="0" y="119.52">BDO</tspan><tspan x="0" y="124.5">SLCK</tspan><tspan x="0" y="129.48">SDEN</tspan><tspan x="0" y="134.46">SDATA</tspan><tspan x="0" y="169.32">URST</tspan><tspan x="0" y="179.28">YV7</tspan><tspan x="0" y="184.26">YV6</tspan><tspan x="0" y="189.24">YV5</tspan><tspan x="0" y="199.2">YV4</tspan><tspan x="0" y="204.18">YV3</tspan><tspan x="0" y="209.16">YV2</tspan><tspan x="0" y="214.14">YV1</tspan><tspan x="0" y="219.12">YV0</tspan><tspan x="0" y="229.08">HSYNC#</tspan><tspan x="0" y="234.06">VSYNC#</tspan><tspan x="0" y="249">ASPDIF</tspan></text></g>
<g transform="translate(591,209) rotate(-90)"><text class="rs"><tspan x="0" y="114.54">DV33</tspan><tspan x="0" y="149.4">DV33</tspan><tspan x="0" y="164.34">GND</tspan><tspan x="0" y="194.22">V25</tspan><tspan x="0" y="224.1">GND</tspan></text></g>
<use href="#xx" x="669" y="230"/><use href="#xx" x="728.7" y="230"/><use href="#xx" x="733.7" y="230"/><use href="#xx" x="743.7" y="230"/><use href="#xx" x="748.7" y="230"/><use href="#xx" x="763.6" y="230"/><use href="#xx" x="833.3" y="230"/>

<!-- bottom numbers -->
<g transform="translate(590.7,569) rotate(-90)"><text class="n"><tspan x="0" y="0">53</tspan><tspan x="0" dy="4.98">54</tspan><tspan x="0" dy="4.98">55</tspan><tspan x="0" dy="4.98">56</tspan><tspan x="0" dy="4.98">57</tspan><tspan x="0" dy="4.98">58</tspan><tspan x="0" dy="4.98">59</tspan><tspan x="0" dy="4.98">60</tspan><tspan x="0" dy="4.98">61</tspan><tspan x="0" dy="4.98">62</tspan><tspan x="0" dy="4.98">63</tspan><tspan x="0" dy="4.98">64</tspan><tspan x="0" dy="4.98">65</tspan><tspan x="0" dy="4.98">66</tspan><tspan x="0" dy="4.98">67</tspan><tspan x="0" dy="4.98">68</tspan><tspan x="0" dy="4.98">69</tspan><tspan x="0" dy="4.98">70</tspan><tspan x="0" dy="4.98">71</tspan><tspan x="0" dy="4.98">72</tspan><tspan x="0" dy="4.98">73</tspan><tspan x="0" dy="4.98">74</tspan><tspan x="0" dy="4.98">75</tspan><tspan x="0" dy="4.98">76</tspan><tspan x="0" dy="4.98">77</tspan><tspan x="0" dy="4.98">78</tspan><tspan x="0" dy="4.98">79</tspan><tspan x="0" dy="4.98">80</tspan><tspan x="0" dy="4.98">81</tspan><tspan x="0" dy="4.98">82</tspan><tspan x="0" dy="4.98">83</tspan><tspan x="0" dy="4.98">84</tspan><tspan x="0" dy="4.98">85</tspan><tspan x="0" dy="4.98">86</tspan><tspan x="0" dy="4.98">87</tspan><tspan x="0" dy="4.98">88</tspan><tspan x="0" dy="4.98">89</tspan><tspan x="0" dy="4.98">90</tspan><tspan x="0" dy="4.98">91</tspan><tspan x="0" dy="4.98">92</tspan><tspan x="0" dy="4.98">93</tspan><tspan x="0" dy="4.98">94</tspan><tspan x="0" dy="4.98">95</tspan><tspan x="0" dy="4.98">96</tspan><tspan x="0" dy="4.98">97</tspan><tspan x="0" dy="4.98">98</tspan><tspan x="0" dy="4.98">99</tspan><tspan x="0" dy="4.98">100</tspan><tspan x="0" dy="4.98">101</tspan><tspan x="0" dy="4.98">102</tspan><tspan x="0" dy="4.98">103</tspan><tspan x="0" dy="4.98">104</tspan></text></g>
<!-- bottom internal -->
<g transform="translate(591,552) rotate(-90)"><text class="b"><tspan x="0" y="0">DMVDD3</tspan><tspan x="0" dy="4.98">ALE</tspan><tspan x="0" dy="4.98">IOCE#</tspan><tspan x="0" dy="4.98">IOWR#</tspan><tspan x="0" dy="4.98">IOOE#</tspan><tspan x="0" dy="4.98">DVSS</tspan><tspan x="0" dy="4.98">UP1_2</tspan><tspan x="0" dy="4.98">UP1_3</tspan><tspan x="0" dy="4.98">UP1_4</tspan><tspan x="0" dy="4.98">UP1_5</tspan><tspan x="0" dy="4.98">UP1_6</tspan><tspan x="0" dy="4.98">DVDD3</tspan><tspan x="0" dy="4.98">UP1_7</tspan><tspan x="0" dy="4.98">UP3_0</tspan><tspan x="0" dy="4.98">UP3_1</tspan><tspan x="0" dy="4.98">INT0#</tspan><tspan x="0" dy="4.98">IR</tspan><tspan x="0" dy="4.98">DVDD2</tspan><tspan x="0" dy="4.98">UP3_4</tspan><tspan x="0" dy="4.98">UP3_5</tspan><tspan x="0" dy="4.98">URD#</tspan><tspan x="0" dy="4.98">UWR#</tspan><tspan x="0" dy="4.98">XTALI</tspan><tspan x="0" dy="4.98">XTALO</tspan><tspan x="0" dy="4.98">DVSS</tspan><tspan x="0" dy="4.98">RD7</tspan><tspan x="0" dy="4.98">RD6</tspan><tspan x="0" dy="4.98">RD5</tspan><tspan x="0" dy="4.98">RD4</tspan><tspan x="0" dy="4.98">DVDD3</tspan><tspan x="0" dy="4.98">RD3</tspan><tspan x="0" dy="4.98">RD2</tspan><tspan x="0" dy="4.98">RD1</tspan><tspan x="0" dy="4.98">RD0</tspan><tspan x="0" dy="4.98">RWE#</tspan><tspan x="0" dy="4.98">CAS#</tspan><tspan x="0" dy="4.98">RAS#</tspan><tspan x="0" dy="4.98">CS#</tspan><tspan x="0" dy="4.98">DVDD3</tspan><tspan x="0" dy="4.98">RD15</tspan><tspan x="0" dy="4.98">RD14</tspan><tspan x="0" dy="4.98">RD13</tspan><tspan x="0" dy="4.98">RD12</tspan><tspan x="0" dy="4.98">DVSS</tspan><tspan x="0" dy="4.98">RD11</tspan><tspan x="0" dy="4.98">RD10</tspan><tspan x="0" dy="4.98">RD9</tspan><tspan x="0" dy="4.98">RD8</tspan><tspan x="0" dy="4.98">DVDD2</tspan><tspan x="0" dy="4.98">VPVDD3</tspan><tspan x="0" dy="4.98">VCCSN</tspan><tspan x="0" dy="4.98">VPVSS</tspan></text></g>
<!-- bottom external -->
<path class="w" d="M599.3,570V594M604.2,570V594M609.2,570V594M619.2,570V594M624.2,570V594M629.2,570V594M634.1,570V594M639.1,570V594M654.1,570V594M659,570V594M669,570V594M679,570V594M684,570V594M713.8,570V594M718.8,570V594M723.8,570V594M728.7,570V594M738.7,570V594M743.7,570V594M748.7,570V594M753.6,570V594M758.6,570V594M763.6,570V594M768.6,570V594M773.6,570V594M783.5,570V594M793.5,570V594M798.5,570V594M803.4,570V594M808.4,570V594M818.4,570V594M823.4,570V594M828.3,570V594M833.3,570V594"/>
<path class="w" d="M614.2,570V606M644.1,570V606M674,570V606M708.8,570V606M733.7,570V606M788.5,570V606M813.4,570V606" stroke="#d8a0b8"/>
<g transform="translate(591,576) rotate(-90)"><text class="rs" text-anchor="end"><tspan x="0" y="9.96">PRD#</tspan><tspan x="0" y="14.94">PWR#</tspan><tspan x="0" y="19.92">PCE#</tspan><tspan x="0" y="29.88">SCL</tspan><tspan x="0" y="34.86">SDA</tspan><tspan x="0" y="39.84">MICD</tspan><tspan x="0" y="44.82">MD</tspan><tspan x="0" y="64.74">SERVO</tspan><tspan x="0" y="69.72">1369P3_1</tspan><tspan x="0" y="79.68">IR</tspan><tspan x="0" y="89.64">RxD</tspan><tspan x="0" y="94.62">TxD</tspan><tspan x="0" y="124.5">DQ7</tspan><tspan x="0" y="129.48">DQ6</tspan><tspan x="0" y="134.46">DQ5</tspan><tspan x="0" y="139.44">DQ4</tspan><tspan x="0" y="149.4">DQ3</tspan><tspan x="0" y="154.38">DQ2</tspan><tspan x="0" y="159.36">DQ1</tspan><tspan x="0" y="164.34">DQ0</tspan><tspan x="0" y="169.32">DWE#</tspan><tspan x="0" y="174.3">DCAS#</tspan><tspan x="0" y="179.28">DRAS#</tspan><tspan x="0" y="184.26">DCS#</tspan><tspan x="0" y="204.18">DQ15</tspan><tspan x="0" y="209.16">DQ14</tspan><tspan x="0" y="214.14">DQ13</tspan><tspan x="0" y="219.12">DQ12</tspan><tspan x="0" y="229.08">DQ11</tspan><tspan x="0" y="234.06">DQ10</tspan><tspan x="0" y="239.04">DQ9</tspan><tspan x="0" y="244.02">DQ8</tspan></text></g>
<g transform="translate(591,593) rotate(-90)"><text class="rs" text-anchor="end"><tspan x="0" y="24.9">GND</tspan><tspan x="0" y="54.78">DV33</tspan><tspan x="0" y="84.66">V25</tspan><tspan x="0" y="119.52">GND</tspan><tspan x="0" y="144.42">V25</tspan><tspan x="0" y="199.2">DV33</tspan><tspan x="0" y="224.1">GND</tspan></text></g>
<use href="#xx" x="594.3" y="573"/><use href="#xx" x="664" y="573"/><use href="#xx" x="688.9" y="573"/><use href="#xx" x="693.9" y="573"/>

<!-- NDIP watermarks -->
<text class="nd" x="380" y="278">NDIP</text>
<text class="nd" x="557" y="433">NDIP</text>
<text class="nd" x="760" y="563">NDIP</text>

<!-- LEFT CHIP WIRING -->
<path class="w" d="M387,231V237M387,252V266H540V320.7H545M387,266V287M411.7,266V287M431.7,266V287M451.7,266V287M471.2,266V287M387,287H541V276H545M541,281H545
M541,271H517M502,271H482M482,271V286M487,281H502M504,281H541M510,286H522M525,286H545M497,291H545M466,291V296M466,296H483M486,296H545M502,301H522M525,301H545M502,301V306H545M446,311H545M446,311V316M446,316H467M470,316H517M532,316H545
M342,326H500M515,326H545M342,331H500M515,331H545M342,336H545M342,341H500M515,341H545M521,346H545M322,351H500M515,351H545M327,356H500M515,356H545
M377,341V391M402,326V391M427,331V391M452,351V391M476,356V391M347,391H483"/>
<use href="#pw" x="387" y="229"/>
<use href="#rv" x="387" y="237"/>
<use href="#cv" x="387" y="277"/><use href="#cv" x="411.7" y="277"/><use href="#cv" x="431.7" y="277"/><use href="#cv" x="451.7" y="277"/><use href="#cv" x="471.2" y="277"/>
<use href="#gd" x="387" y="287"/>
<use href="#rh" x="502" y="271"/><use href="#ch" x="503" y="281"/><use href="#ch" x="523.5" y="286"/><use href="#ch" x="484.5" y="296"/><use href="#ch" x="523.5" y="301"/><use href="#ch" x="468.5" y="316"/><use href="#rh" x="517" y="316"/>
<use href="#rh" x="500" y="326"/><use href="#rh" x="500" y="331"/><use href="#rh" x="500" y="341"/><use href="#rh" x="500" y="351"/><use href="#rh" x="500" y="356"/>
<use href="#cv" x="377" y="382"/><use href="#cv" x="402" y="382"/><use href="#cv" x="427" y="382"/><use href="#cv" x="452" y="382"/><use href="#cv" x="476" y="382"/>
<g fill="#e020d0"><rect x="386" y="265" width="2.5" height="2.5"/><rect x="410.5" y="265" width="2.5" height="2.5"/><rect x="430.5" y="265" width="2.5" height="2.5"/><rect x="450.5" y="265" width="2.5" height="2.5"/><rect x="470" y="265" width="2.5" height="2.5"/><rect x="386" y="286" width="2.5" height="2.5"/><rect x="410.5" y="286" width="2.5" height="2.5"/><rect x="430.5" y="286" width="2.5" height="2.5"/><rect x="450.5" y="286" width="2.5" height="2.5"/><rect x="470" y="286" width="2.5" height="2.5"/><rect x="539.8" y="270" width="2.5" height="2.5"/><rect x="539.8" y="280" width="2.5" height="2.5"/><rect x="376" y="340" width="2.5" height="2.5"/><rect x="401" y="325" width="2.5" height="2.5"/><rect x="426" y="330" width="2.5" height="2.5"/><rect x="451" y="350" width="2.5" height="2.5"/><rect x="475" y="355" width="2.5" height="2.5"/><rect x="376" y="390" width="2.5" height="2.5"/><rect x="401" y="390" width="2.5" height="2.5"/><rect x="426" y="390" width="2.5" height="2.5"/><rect x="451" y="390" width="2.5" height="2.5"/><rect x="475" y="390" width="2.5" height="2.5"/><rect x="530" y="310" width="2.5" height="2.5"/></g>
<text class="c"><tspan x="382" y="225" fill="#444">AV33</tspan><tspan x="396" y="245">R44</tspan><tspan x="396" y="250">4.7</tspan><tspan x="376" y="276">C80</tspan><tspan x="377" y="285">47u</tspan><tspan x="403" y="274">C81</tspan><tspan x="399" y="285">100p</tspan><tspan x="421" y="274">C82</tspan><tspan x="421" y="285">0.1u</tspan><tspan x="441" y="274">C83</tspan><tspan x="446" y="285">1u</tspan><tspan x="461" y="274">C84</tspan><tspan x="463" y="285">10u</tspan><tspan x="486" y="270">R45</tspan><tspan x="516" y="269">8.2k</tspan><tspan x="487" y="280">C85</tspan><tspan x="508" y="280">10n</tspan><tspan x="511" y="285">C86</tspan><tspan x="528" y="285">18n</tspan><tspan x="471" y="294">C87</tspan><tspan x="488" y="294">10n</tspan><tspan x="511" y="300">C88</tspan><tspan x="528" y="300">18n</tspan><tspan x="456" y="315">C89</tspan><tspan x="471" y="315">100p</tspan><tspan x="487" y="315">R46</tspan><tspan x="531" y="315">750k</tspan><tspan x="487" y="325">R47</tspan><tspan x="521" y="325">33k</tspan><tspan x="487" y="330">R48</tspan><tspan x="521" y="330">33k</tspan><tspan x="487" y="340">R49</tspan><tspan x="521" y="340">0</tspan><tspan x="487" y="350">R50</tspan><tspan x="521" y="350">18k</tspan><tspan x="487" y="355">R51</tspan><tspan x="521" y="355">18k</tspan><tspan x="381" y="384">C90</tspan><tspan x="381" y="390">open</tspan><tspan x="406" y="384">C91</tspan><tspan x="406" y="390">330p</tspan><tspan x="431" y="384">C92</tspan><tspan x="431" y="390">330p</tspan><tspan x="456" y="384">C93</tspan><tspan x="455" y="390">0.015u</tspan><tspan x="480" y="384">C94</tspan><tspan x="481" y="390">0.01u</tspan></text>
<text class="r"><tspan x="352" y="325">FOSO</tspan><tspan x="358" y="330">TRSO</tspan><tspan x="357" y="335">TROPEN</tspan><tspan x="360" y="340">PWMOUT2</tspan><tspan x="523" y="345">V20</tspan><tspan x="347" y="350">DMSO</tspan><tspan x="340" y="355">FMSO</tspan><tspan x="357" y="390">V1P4</tspan></text>

<!-- LOWER LEFT NEAR CHIP -->
<path class="w" d="M512,567H519M532,567H589.3V570"/>
<use href="#pw" x="510" y="566"/><use href="#rh" x="518" y="567"/><use href="#cv" x="541" y="560"/><use href="#jd" x="541" y="567"/>
<text class="c"><tspan x="502" y="563" fill="#444">AV33</tspan><tspan x="516" y="563">R56</tspan><tspan x="515" y="578">4.7</tspan><tspan x="529" y="562">C95</tspan><tspan x="548" y="563">10u</tspan></text>

<!-- BOTTOM RIGHT -->
<path class="w" d="M843.3,570V573H869V622M838.3,570V583H845M848,583H869M833.3,570V612M833.3,627V632M833.3,604H857M860,604H869"/>
<use href="#ch" x="846.5" y="583"/><use href="#ch" x="858.5" y="604"/><use href="#rv" x="833.3" y="612"/><use href="#pw" x="833.3" y="634"/><use href="#gd" x="869" y="620"/>
<use href="#jd" x="869" y="583"/><use href="#jd" x="869" y="604"/><use href="#jd" x="833.3" y="604"/>
<text class="c"><tspan x="852" y="581">C100</tspan><tspan x="850" y="593">0.1u</tspan><tspan x="854" y="612">C101</tspan><tspan x="871" y="613">10u</tspan><tspan x="839" y="618">R55</tspan><tspan x="839" y="623">4.7</tspan><tspan x="828" y="642" fill="#444">AV33</tspan></text>

<!-- OSCILLATOR -->
<path class="w" d="M698.9,570V624H635V660M635,675V705H665M703.9,570V643H649.1M649.1,643H715M649.1,643V655M649.1,670V717M715,643V655M715,670V763H688M673,763H645V710H665M695,643V710H685M685,705H700V682M700,674V682H725V690M725,694V703M685,715H720M735,715H750V629H780M665,735H656V752
M545,695H564M567,695H635M625,695V702M625,710V717M610,695V697M610,712V734M545,717H564M567,717H583M598,717H665M545,734H556M558,734H570M586,734H610M545,695V745"/>
<rect x="665" y="700" width="20" height="40" fill="none" stroke="#3a40d0" stroke-width="0.9"/>
<use href="#rv" x="635" y="660"/><use href="#rv" x="649.1" y="655"/><use href="#rv" x="715" y="655"/>
<use href="#pw" x="700" y="672"/><use href="#cv" x="725" y="692"/><use href="#gd" x="725" y="703"/>
<use href="#rh" x="720" y="715"/><use href="#rh" x="673" y="763"/>
<use href="#ch" x="565.5" y="695"/><use href="#ch" x="565.5" y="717"/><use href="#ch" x="557" y="734"/>
<use href="#rv" x="610" y="697"/><use href="#rh" x="583" y="717"/><use href="#ind" x="570" y="734"/>
<rect x="621" y="703" width="8" height="6" fill="none" stroke="#3a40d0" stroke-width="0.9"/>
<path d="M620,702h10M620,710h10" stroke="#3a40d0" stroke-width="0.8"/>
<use href="#gd" x="545" y="745"/><use href="#gd" x="656" y="750"/>
<g fill="#e020d0"><rect x="608.7" y="693.7" width="2.5" height="2.5"/><rect x="633.7" y="693.7" width="2.5" height="2.5"/><rect x="608.7" y="715.7" width="2.5" height="2.5"/><rect x="623.7" y="715.7" width="2.5" height="2.5"/><rect x="643.7" y="715.7" width="2.5" height="2.5"/><rect x="543.7" y="715.7" width="2.5" height="2.5"/><rect x="543.7" y="732.7" width="2.5" height="2.5"/><rect x="647.8" y="641.7" width="2.5" height="2.5"/><rect x="713.7" y="641.7" width="2.5" height="2.5"/><rect x="693.7" y="641.7" width="2.5" height="2.5"/><rect x="713.7" y="713.7" width="2.5" height="2.5"/><rect x="698.7" y="680.7" width="2.5" height="2.5"/></g>
<text class="n" fill="#333"><tspan x="667" y="706.5">1</tspan><tspan x="667" y="711.5">2</tspan><tspan x="667" y="716.5">3</tspan><tspan x="667" y="721.5">4</tspan><tspan x="667" y="726.5">5</tspan><tspan x="667" y="731.5">6</tspan><tspan x="667" y="736.5">7</tspan><tspan x="679" y="706.5">14</tspan><tspan x="679" y="711.5">13</tspan><tspan x="679" y="716.5">12</tspan><tspan x="680" y="721.5">11</tspan><tspan x="680" y="726.5">10</tspan><tspan x="681" y="731.5">9</tspan><tspan x="681" y="736.5">8</tspan></text>
<path d="M687,719h3v3h-3zM687,729h3v3h-3zM654,724h3v3h-3z" fill="none" stroke="#888" stroke-width="0.5"/>
<use href="#xx" x="689" y="725"/><use href="#xx" x="689" y="735"/><use href="#xx" x="655" y="730"/>
<text class="c"><tspan x="665" y="697">U4</tspan><tspan x="664" y="746">74HCU04(open)</tspan><tspan x="620" y="661">R158</tspan><tspan x="622" y="674">0R</tspan><tspan x="658" y="659">R52</tspan><tspan x="660" y="666">33R(open)</tspan><tspan x="722" y="659">R160</tspan><tspan x="725" y="666">33R</tspan><tspan x="734" y="688">C99</tspan><tspan x="734" y="694">0.1u(open)</tspan><tspan x="622" y="689">X1</tspan><tspan x="616" y="694">27MHz</tspan><tspan x="551" y="693">C96</tspan><tspan x="570" y="692">22pF</tspan><tspan x="596" y="703">R54</tspan><tspan x="596" y="709">100K</tspan><tspan x="551" y="719">C97</tspan><tspan x="570" y="716">22pF</tspan><tspan x="581" y="723">R58 8K</tspan><tspan x="555" y="743">C98</tspan><tspan x="572" y="739">L23</tspan><tspan x="581" y="743">OPEN(2.2uH)</tspan><tspan x="551" y="752">OPEN(1000pF)</tspan><tspan x="675" y="759">R159</tspan><tspan x="677" y="772">0R</tspan><tspan x="725" y="722">R53 33R</tspan></text>
<text class="r"><tspan x="760" y="627">27MHZ</tspan></text>
<text class="c" fill="#444"><tspan x="696" y="668">DV33</tspan></text>

<!-- CN5 -->
<rect x="342" y="446" width="15" height="70" fill="none" stroke="#5a66e6" stroke-width="1"/>
<text class="n" fill="#3a3a9a"><tspan x="345" y="452.5">1</tspan><tspan x="345" y="457.5">2</tspan><tspan x="345" y="462.5">3</tspan><tspan x="345" y="467.5">4</tspan><tspan x="345" y="472.5">5</tspan><tspan x="345" y="477.5">6</tspan><tspan x="345" y="482.5">7</tspan><tspan x="345" y="487.5">8</tspan><tspan x="345" y="492.5">9</tspan><tspan x="345" y="497.5">10</tspan><tspan x="345" y="502.5">11</tspan><tspan x="345" y="507.5">12</tspan><tspan x="345" y="512.5">13</tspan></text>
<path class="w" d="M280,450.7H342M280,455.7H342M280,460.7H342M307,465.7H342M307,465.7V540M279,470.7H342M233,475.7H263M278,475.7H342M233,480.7H263M278,480.7H342M233,485.7H263M278,485.7H342M233,490.7H263M278,490.7H342M297,480.7V530M297,533V536H307M277,490.7V501M277,503V513M307,495.7H342M290,500.7H342M285,505.7H342M290,510.7H342"/>
<use href="#rh" x="263" y="475.7"/><use href="#rh" x="263" y="480.7"/><use href="#rh" x="263" y="485.7"/><use href="#rh" x="263" y="490.7"/>
<use href="#cv" x="297" y="531.5"/><use href="#cv" x="277" y="502"/><use href="#gd" x="277" y="513"/><use href="#gd" x="307" y="540"/>
<g fill="#e020d0"><rect x="295.7" y="479.4" width="2.5" height="2.5"/><rect x="275.7" y="489.4" width="2.5" height="2.5"/><rect x="305.7" y="494.4" width="2.5" height="2.5"/><rect x="305.7" y="534.7" width="2.5" height="2.5"/></g>
<text class="r"><tspan x="264" y="452">-24V</tspan><tspan x="268" y="457">F+</tspan><tspan x="268" y="462">F-</tspan><tspan x="282" y="470">VDD5</tspan><tspan x="233" y="475">VSDA</tspan><tspan x="233" y="480">VSCK</tspan><tspan x="233" y="485">VSTB</tspan><tspan x="233" y="490">IR</tspan><tspan x="287" y="502">PCON</tspan><tspan x="271" y="507">+5VP</tspan><tspan x="278" y="512">PMUTE</tspan></text>
<text class="a"><tspan x="275" y="453">«</tspan><tspan x="275" y="458">«</tspan><tspan x="275" y="463">«</tspan><tspan x="276" y="473">«</tspan><tspan x="283" y="503">»</tspan><tspan x="281" y="508">»</tspan><tspan x="285" y="513">»</tspan></text>
<text class="c"><tspan x="247" y="475">R56</tspan><tspan x="247" y="480">R57</tspan><tspan x="247" y="485">R58</tspan><tspan x="247" y="490">R59</tspan><tspan x="263" y="473">50</tspan><tspan x="263" y="478">50</tspan><tspan x="263" y="483">50</tspan><tspan x="263" y="489">50</tspan><tspan x="257" y="498">C103</tspan><tspan x="259" y="504">100p</tspan><tspan x="282" y="523">C102</tspan><tspan x="279" y="530">120pF</tspan><tspan x="344" y="522">CN5</tspan><tspan x="337" y="528">CON13*2.0</tspan></text>

<!-- CN4 -->
<rect x="287" y="596" width="16" height="24" fill="none" stroke="#5a66e6" stroke-width="1"/>
<text class="n" fill="#3a3a9a"><tspan x="297" y="601">4</tspan><tspan x="297" y="606">3</tspan><tspan x="297" y="611">2</tspan><tspan x="297" y="616">1</tspan></text>
<path class="w" d="M306,599H327V589M306,604H333M306,609H336M306,614H352V638"/>
<g fill="none" stroke="#e05050" stroke-width="0.6"><circle cx="304.5" cy="599" r="1.3"/><circle cx="304.5" cy="604" r="1.3"/><circle cx="304.5" cy="609" r="1.3"/><circle cx="304.5" cy="614" r="1.3"/></g>
<use href="#pw" x="327" y="587"/><use href="#gd" x="352" y="638"/>
<text class="c"><tspan x="287" y="594">CN4</tspan><tspan x="276" y="630">SERIAL/UP4P.2.0</tspan><tspan x="318" y="585" fill="#444">DV33</tspan></text>
<text class="r"><tspan x="322" y="603">RxD</tspan><tspan x="324" y="608.5">TxD</tspan></text>

<!-- CAP BANKS -->
<path class="w" d="M362,679V680M321.7,680H453.3M321.7,695H453.3M321.7,680V695M341.7,680V695M361.7,680V695M381.7,680V695M401.7,680V695M426.7,680V695M453.3,680V695
M362,719V719.3M321.7,719.3H426.7M321.7,733.3H426.7M321.7,719.3V733.3M341.7,719.3V733.3M361.7,719.3V733.3M381.7,719.3V733.3M401.7,719.3V733.3M426.7,719.3V733.3"/>
<use href="#cv" x="321.7" y="687.5"/><use href="#cv" x="341.7" y="687.5"/><use href="#cv" x="361.7" y="687.5"/><use href="#cv" x="381.7" y="687.5"/><use href="#cv" x="401.7" y="687.5"/><use href="#cv" x="426.7" y="687.5"/><use href="#cv" x="453.3" y="687.5"/>
<use href="#cv" x="321.7" y="726.3"/><use href="#cv" x="341.7" y="726.3"/><use href="#cv" x="361.7" y="726.3"/><use href="#cv" x="381.7" y="726.3"/><use href="#cv" x="401.7" y="726.3"/><use href="#cv" x="426.7" y="726.3"/>
<use href="#pw" x="362" y="677"/><use href="#pw" x="362" y="717"/>
<use href="#gd" x="362" y="695"/><use href="#gd" x="362" y="733.3"/>
<g fill="#e020d0"><rect x="340.5" y="678.8" width="2.5" height="2.5"/><rect x="360.5" y="678.8" width="2.5" height="2.5"/><rect x="380.5" y="678.8" width="2.5" height="2.5"/><rect x="400.5" y="678.8" width="2.5" height="2.5"/><rect x="425.5" y="678.8" width="2.5" height="2.5"/><rect x="340.5" y="693.8" width="2.5" height="2.5"/><rect x="360.5" y="693.8" width="2.5" height="2.5"/><rect x="380.5" y="693.8" width="2.5" height="2.5"/><rect x="400.5" y="693.8" width="2.5" height="2.5"/><rect x="425.5" y="693.8" width="2.5" height="2.5"/><rect x="340.5" y="718" width="2.5" height="2.5"/><rect x="360.5" y="718" width="2.5" height="2.5"/><rect x="380.5" y="718" width="2.5" height="2.5"/><rect x="400.5" y="718" width="2.5" height="2.5"/><rect x="340.5" y="732" width="2.5" height="2.5"/><rect x="360.5" y="732" width="2.5" height="2.5"/><rect x="380.5" y="732" width="2.5" height="2.5"/><rect x="400.5" y="732" width="2.5" height="2.5"/></g>
<text class="c"><tspan x="356" y="674" fill="#444">DV33</tspan><tspan x="307" y="684">C104</tspan><tspan x="327" y="684">C105</tspan><tspan x="347" y="684">C106</tspan><tspan x="367" y="684">C107</tspan><tspan x="387" y="684">C108</tspan><tspan x="412" y="684">C109</tspan><tspan x="437" y="684">C110</tspan><tspan x="307" y="694">0.1u</tspan><tspan x="327" y="694">0.1u</tspan><tspan x="347" y="694">0.1u</tspan><tspan x="367" y="694">0.1u</tspan><tspan x="387" y="694">0.1u</tspan><tspan x="412" y="694">0.1u</tspan><tspan x="437" y="694">0.1u</tspan>
<tspan x="357" y="714" fill="#444">V25</tspan><tspan x="307" y="724">C111</tspan><tspan x="327" y="724">C112</tspan><tspan x="347" y="724">C113</tspan><tspan x="367" y="724">C114</tspan><tspan x="387" y="724">C115</tspan><tspan x="412" y="724">C116</tspan><tspan x="307" y="734">0.1u</tspan><tspan x="327" y="734">0.1u</tspan><tspan x="347" y="734">0.1u</tspan><tspan x="367" y="734">0.1u</tspan><tspan x="387" y="734">0.1u</tspan><tspan x="412" y="734">0.1u</tspan></text>
</svg>
</body></html>
